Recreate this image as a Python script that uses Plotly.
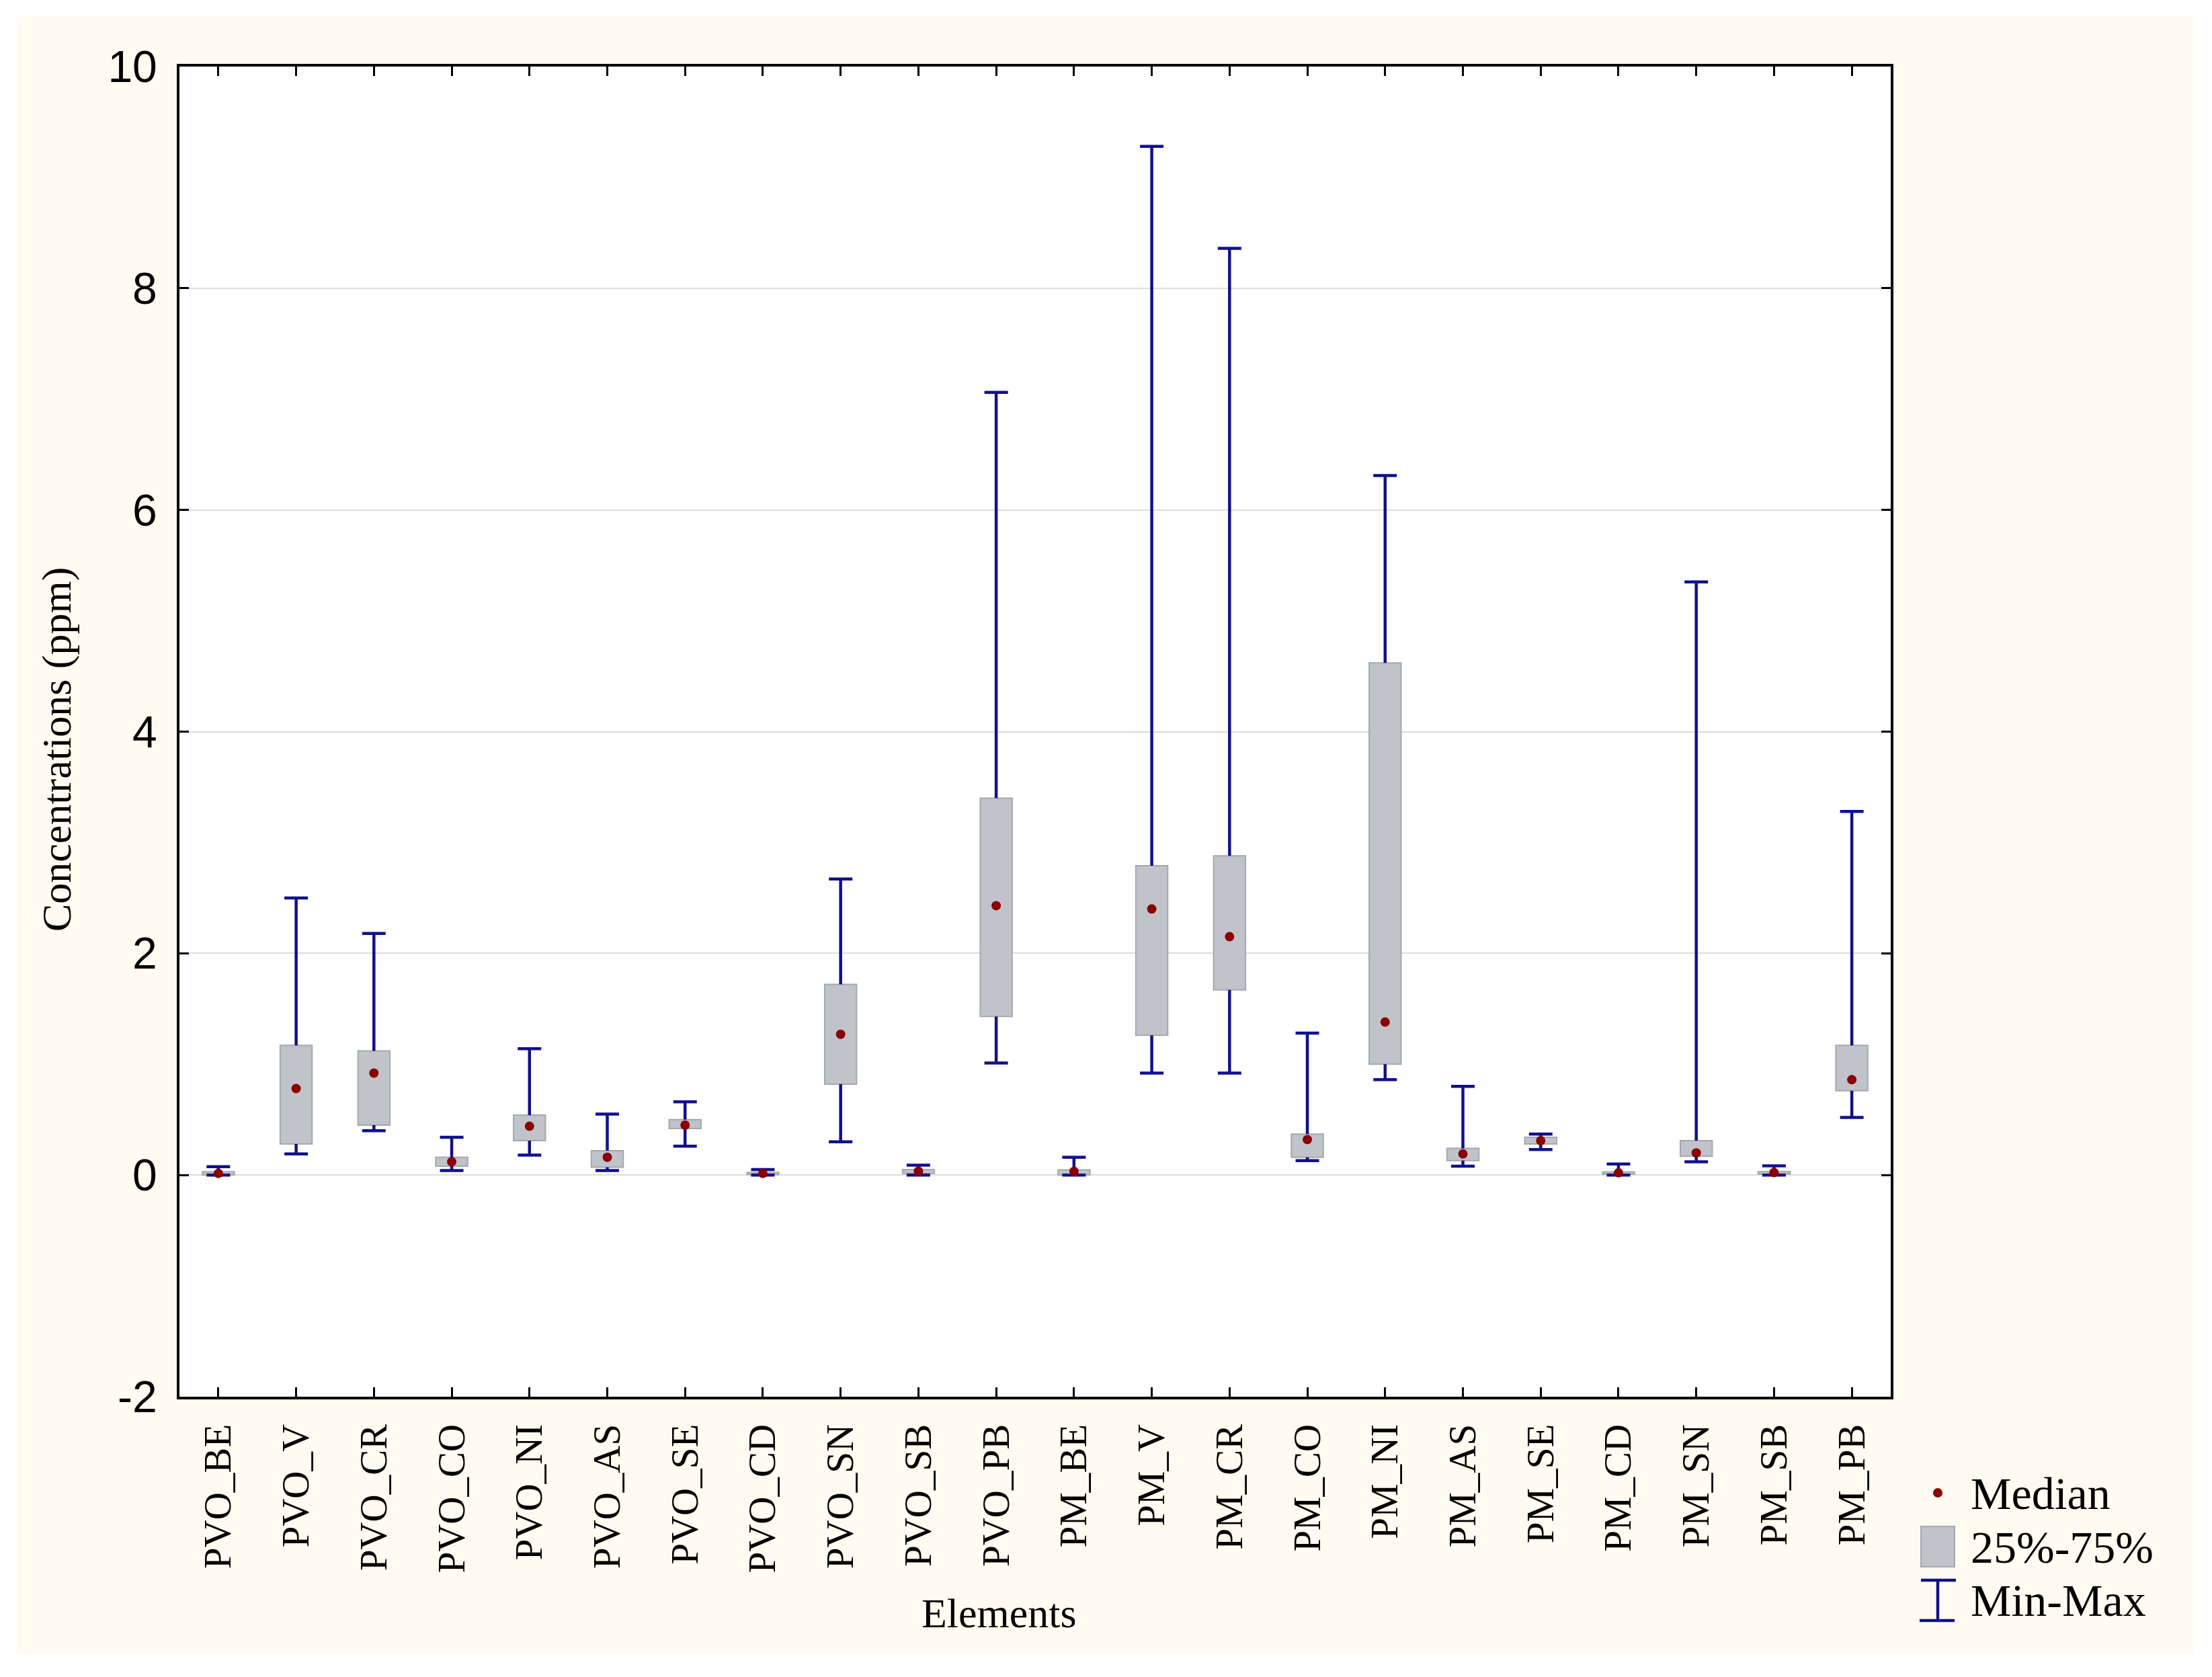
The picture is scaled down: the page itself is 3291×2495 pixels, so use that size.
import plotly.graph_objects as go

# element names (x categories)
elements = ["PVO_BE", "PVO_V", "PVO_CR", "PVO_CO", "PVO_NI", "PVO_AS", "PVO_SE",
            "PVO_CD", "PVO_SN", "PVO_SB", "PVO_PB", "PM_BE", "PM_V", "PM_CR",
            "PM_CO", "PM_NI", "PM_AS", "PM_SE", "PM_CD", "PM_SN", "PM_SB", "PM_PB"]

# concentrations (ppm)
conc_min = [0.0, 0.19, 0.40, 0.04, 0.18, 0.04, 0.26, 0.0, 0.30, 0.0, 1.01,
            0.0, 0.92, 0.92, 0.13, 0.86, 0.08, 0.23, 0.0, 0.12, 0.0, 0.52]
conc_q1 = [0.0, 0.28, 0.45, 0.08, 0.31, 0.07, 0.42, 0.004, 0.82, 0.014, 1.43,
           0.0, 1.26, 1.67, 0.16, 1.0, 0.13, 0.28, 0.008, 0.17, 0.008, 0.76]
conc_median = [0.015, 0.78, 0.92, 0.12, 0.44, 0.16, 0.45, 0.014, 1.27, 0.034, 2.43,
               0.033, 2.40, 2.15, 0.32, 1.38, 0.19, 0.31, 0.02, 0.20, 0.022, 0.86]
conc_q3 = [0.03, 1.17, 1.12, 0.16, 0.54, 0.22, 0.50, 0.024, 1.72, 0.05, 3.40,
           0.046, 2.79, 2.88, 0.37, 4.62, 0.24, 0.34, 0.028, 0.31, 0.032, 1.17]
conc_max = [0.075, 2.50, 2.18, 0.34, 1.14, 0.55, 0.66, 0.049, 2.67, 0.089, 7.06,
            0.16, 9.28, 8.36, 1.28, 6.31, 0.80, 0.37, 0.10, 5.35, 0.083, 3.28]

y_ticks = [-2, 0, 2, 4, 6, 8, 10]
y_ticktext = ["-2", "0", "2", "4", "6", "8", "10"]

NAVY = "#10108c"
BOX_FILL = "#c0c4ca"
BOX_LINE = "#a4a8ae"
DOT = "#8b0000"
CREAM = "#fffbf0"
SERIF = "Liberation Serif, Times New Roman, serif"
SANS = "Liberation Sans, Arial, sans-serif"

W, H = 3291, 2495
OFF = 8  # page margin of the html body
PL, PT, PW, PH = 267, 99, 2546, 1979  # plot area on the page


def px_x(px):
    return (px - PL) / PW


def px_y(py):
    return (PT + PH - py) / PH


fig = go.Figure()

# interquartile boxes
fig.add_trace(go.Bar(
    x=elements,
    y=[q3 - q1 for q1, q3 in zip(conc_q1, conc_q3)],
    base=conc_q1,
    width=0.41,
    marker=dict(color=BOX_FILL, line=dict(color=BOX_LINE, width=2)),
    hoverinfo="skip",
    showlegend=False,
))

# whiskers: min -> q1 and q3 -> max
wx, wy = [], []
for e, lo, q1, q3, hi in zip(elements, conc_min, conc_q1, conc_q3, conc_max):
    wx += [e, e, None, e, e, None]
    wy += [lo, q1, None, q3, hi, None]
fig.add_trace(go.Scatter(
    x=wx, y=wy, mode="lines",
    line=dict(color=NAVY, width=4.5),
    hoverinfo="skip", showlegend=False,
))

# caps
fig.add_trace(go.Scatter(
    x=elements + elements, y=conc_min + conc_max, mode="markers",
    marker=dict(symbol="line-ew", size=25, line=dict(color=NAVY, width=4.5)),
    hoverinfo="skip", showlegend=False,
))

# medians
fig.add_trace(go.Scatter(
    x=elements, y=conc_median, mode="markers",
    marker=dict(color=DOT, size=14, line=dict(width=0)),
    showlegend=False,
))

shapes = [
    # cream page background and white plot area
    dict(type="rect", xref="paper", yref="paper", layer="below",
         x0=px_x(25), x1=px_x(3264), y0=px_y(2460), y1=px_y(25),
         fillcolor=CREAM, line=dict(width=0)),
    dict(type="rect", xref="paper", yref="paper", layer="below",
         x0=0, x1=1, y0=0, y1=1, fillcolor="white", line=dict(width=0)),
    # legend symbols
    dict(type="circle", xref="paper", yref="paper", xsizemode="pixel", ysizemode="pixel",
         xanchor=px_x(2883), yanchor=px_y(2221), x0=-7, x1=7, y0=-7, y1=7,
         fillcolor=DOT, line=dict(width=0)),
    dict(type="rect", xref="paper", yref="paper",
         x0=px_x(2858), x1=px_x(2908), y0=px_y(2331), y1=px_y(2271),
         fillcolor=BOX_FILL, line=dict(color=BOX_LINE, width=2)),
    dict(type="line", xref="paper", yref="paper",
         x0=px_x(2883), x1=px_x(2883), y0=px_y(2411), y1=px_y(2351),
         line=dict(color=NAVY, width=4.5)),
    dict(type="line", xref="paper", yref="paper",
         x0=px_x(2858), x1=px_x(2910), y0=px_y(2351), y1=px_y(2351),
         line=dict(color=NAVY, width=4.5)),
    dict(type="line", xref="paper", yref="paper",
         x0=px_x(2856), x1=px_x(2908), y0=px_y(2411), y1=px_y(2411),
         line=dict(color=NAVY, width=4.5)),
]

annotations = [
    dict(text="Concentrations (ppm)", xref="paper", yref="paper",
         x=px_x(84), y=px_y(1115), xanchor="center", yanchor="middle",
         textangle=-90, showarrow=False,
         font=dict(family=SERIF, size=62, color="black")),
    dict(text="Elements", xref="paper", yref="paper",
         x=px_x(1486), y=px_y(2400), xanchor="center", yanchor="middle",
         showarrow=False,
         font=dict(family=SERIF, size=62, color="black")),
]
for label, yc in [("Median", 2222), ("25%-75%", 2302), ("Min-Max", 2381)]:
    annotations.append(dict(
        text=label, xref="paper", yref="paper", x=px_x(2930), y=px_y(yc),
        xanchor="left", yanchor="middle", showarrow=False,
        font=dict(family=SERIF, size=68, color="black")))

fig.update_layout(
    width=W, height=H,
    margin=dict(l=PL - OFF, r=W - PL - PW + OFF, t=PT - OFF, b=H - PT - PH + OFF),
    paper_bgcolor="white",
    plot_bgcolor="white",
    barmode="overlay",
    shapes=shapes,
    annotations=annotations,
    xaxis=dict(
        type="category",
        range=[-0.5, len(elements) - 0.5],
        showline=True, linecolor="black", linewidth=4, mirror="ticks",
        ticks="inside", ticklen=14, tickwidth=3, tickcolor="black",
        tickangle=-90, ticklabelstandoff=14,
        tickfont=dict(family=SERIF, size=57, color="black"),
        showgrid=False, zeroline=False,
    ),
    yaxis=dict(
        range=[-2, 10],
        tickvals=y_ticks, ticktext=y_ticktext,
        showline=True, linecolor="black", linewidth=4, mirror="ticks",
        ticks="inside", ticklen=14, tickwidth=3, tickcolor="black",
        ticklabelstandoff=16,
        tickfont=dict(family=SANS, size=66, color="black"),
        showgrid=True, gridcolor="#dddddd", gridwidth=2,
        zeroline=False,
    ),
)

fig.write_html("out.html")
